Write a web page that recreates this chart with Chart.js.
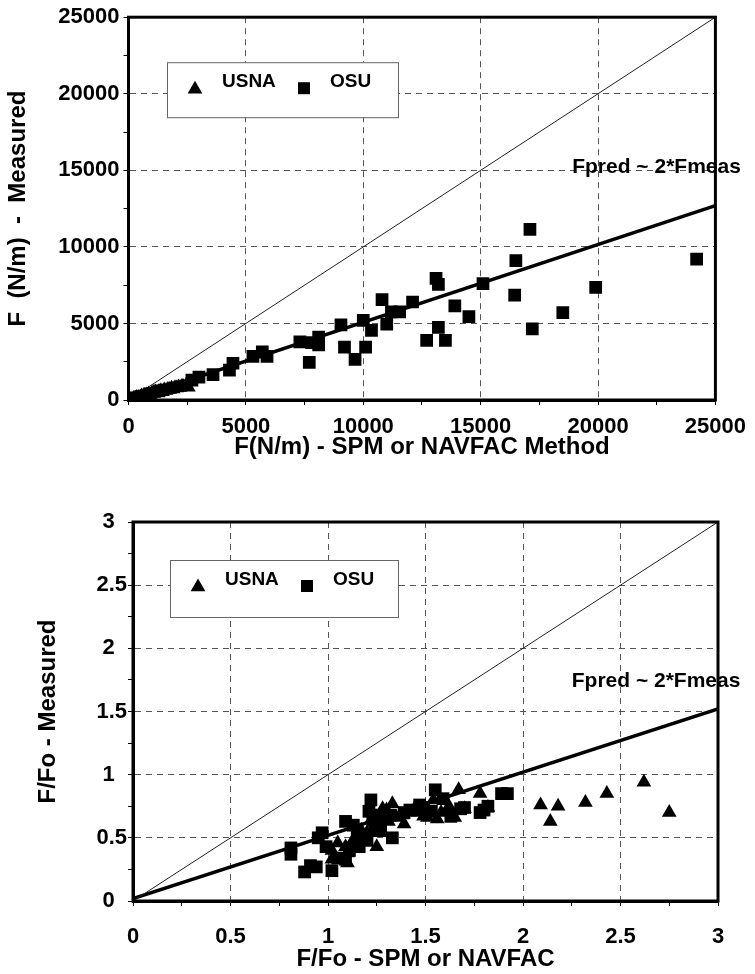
<!DOCTYPE html>
<html>
<head>
<meta charset="utf-8">
<script src="https://cdn.jsdelivr.net/npm/chart.js@4.4.1/dist/chart.umd.min.js"></script>
<style>
  body { margin: 0; background: #fff; }
  .box { position: absolute; left: 0; width: 755px; height: 487px; }
</style>
</head>
<body>
<div class="box" style="top:0"><canvas id="topChart" width="755" height="487"></canvas></div>
<div class="box" style="top:487px"><canvas id="bottomChart" width="755" height="487"></canvas></div>
<script>
// top panel: F (N/m), measured vs predicted
const topUsna = [
  [80, 30], [150, 60], [220, 90], [300, 110], [350, 160], [420, 170], [500, 200], [560, 260],
  [630, 240], [700, 300], [780, 320], [850, 380], [920, 350], [1000, 450], [1080, 420],
  [1150, 520], [1230, 480], [1300, 560], [1380, 600], [1450, 540], [1520, 650], [1600, 620],
  [1680, 700], [1750, 680], [1830, 760], [1900, 720], [1980, 800], [2050, 780], [2130, 850],
  [2200, 820], [2280, 900], [2350, 870], [2450, 950], [2550, 830]
];
const topOsu = [
  [24200, 9200], [17100, 11150], [16500, 9100], [16450, 6850], [17200, 4650], [18500, 5700],
  [19900, 7350], [15100, 7600], [13100, 7950], [13200, 7550], [13900, 6150], [14500, 5450],
  [13200, 4750], [12700, 3900], [13500, 3900], [12100, 6400], [10800, 6550], [11200, 5750],
  [11550, 5750], [11000, 4950], [10000, 5200], [10350, 4550], [9050, 4900], [10100, 3450],
  [9200, 3450], [9650, 2650], [8100, 4100], [7800, 3750], [8100, 3600], [7300, 3800],
  [7700, 2450], [5700, 3150], [5900, 2850], [5300, 2850], [4450, 2400], [4300, 1950],
  [3600, 1650], [3000, 1500], [2700, 1300], [1300, 600], [900, 400], [500, 200]
];
const topEqual = [[0, 0], [25000, 25000]];
const topFit = [[0, 0], [25000, 12700]];
const topTicks = [0, 5000, 10000, 15000, 20000, 25000];

// bottom panel: F/Fo, measured vs predicted
const bottomUsna = [
  [2.62, 0.94], [2.75, 0.70], [2.43, 0.85], [2.32, 0.78], [2.18, 0.75], [2.09, 0.76], [2.14, 0.63],
  [1.78, 0.85], [1.82, 0.74], [1.67, 0.88], [1.65, 0.66], [1.56, 0.65], [1.51, 0.66], [1.54, 0.80],
  [1.62, 0.75], [1.39, 0.61], [1.33, 0.77], [1.28, 0.73], [1.44, 0.72], [1.49, 0.67], [1.38, 0.68],
  [1.31, 0.63], [1.30, 0.72], [1.27, 0.54], [1.22, 0.64], [1.20, 0.54], [1.17, 0.56], [1.15, 0.51],
  [1.12, 0.46], [1.10, 0.38], [1.10, 0.30], [1.09, 0.43], [1.05, 0.46], [1.02, 0.40], [1.02, 0.33],
  [1.25, 0.43], [1.35, 0.66], [1.46, 0.70], [1.58, 0.70], [1.70, 0.73]
];
const bottomOsu = [
  [0.81, 0.42], [0.81, 0.37], [0.88, 0.23], [0.94, 0.27], [0.91, 0.28], [1.02, 0.24], [0.97, 0.54],
  [0.95, 0.50], [0.99, 0.43], [1.09, 0.63], [1.05, 0.34], [1.09, 0.33], [1.11, 0.40], [1.16, 0.43],
  [1.20, 0.48], [1.15, 0.52], [1.22, 0.80], [1.21, 0.71], [1.27, 0.59], [1.23, 0.64], [1.32, 0.68],
  [1.33, 0.50], [1.39, 0.70], [1.42, 0.72], [1.47, 0.76], [1.49, 0.74], [1.55, 0.88], [1.59, 0.81],
  [1.53, 0.71], [1.63, 0.67], [1.68, 0.73], [1.70, 0.74], [1.78, 0.70], [1.80, 0.72], [1.82, 0.75],
  [1.89, 0.85], [1.92, 0.85], [1.26, 0.68], [1.13, 0.60], [1.24, 0.56]
];
const bottomEqual = [[0, 0], [3, 3]];
const bottomFit = [[0, 0.02], [3, 1.52]];
const bottomTicks = [0, 0.5, 1, 1.5, 2, 2.5, 3];

const noteText = 'Fpred ~ 2*Fmeas';
const FONT = "'Liberation Sans', Arial, sans-serif";

const toPts = (arr) => arr.map(p => ({x: p[0], y: p[1]}));
const isMajor = (v, ticks) => ticks.some(t => Math.abs(t - v) < 1e-9);

function triangle(ctx, x, y, r) {
  ctx.beginPath();
  ctx.moveTo(x, y - r);
  ctx.lineTo(x + 0.866 * r, y + 0.5 * r);
  ctx.lineTo(x - 0.866 * r, y + 0.5 * r);
  ctx.closePath();
  ctx.fill();
}

const extras = {
  id: 'extras',
  afterDatasetsDraw(chart, args, o) {
    const {ctx, chartArea: a, scales} = chart;
    ctx.save();
    // frame
    ctx.strokeStyle = '#000';
    ctx.lineWidth = 3;
    ctx.strokeRect(a.left, a.top, a.right - a.left, a.bottom - a.top);

    // legend box
    const lx = a.left + o.legendLeft, ly = a.top + o.legendTop;
    ctx.fillStyle = '#fff';
    ctx.fillRect(lx, ly, o.legendW, o.legendH);
    ctx.lineWidth = 1;
    ctx.strokeStyle = '#666';
    ctx.strokeRect(lx + 0.5, ly + 0.5, o.legendW, o.legendH);
    ctx.fillStyle = '#000';
    triangle(ctx, lx + 28, ly + 27, 8.5);
    ctx.fillRect(lx + 131, ly + 20, 12, 12);
    ctx.font = 'bold 19px ' + FONT;
    ctx.textBaseline = 'middle';
    ctx.textAlign = 'left';
    ctx.fillText(chart.data.datasets[0].label, lx + 55, ly + 20);
    ctx.fillText(chart.data.datasets[1].label, lx + 163, ly + 20);

    // note beside fit line
    ctx.font = 'bold 21px ' + FONT;
    ctx.fillText(noteText, scales.x.getPixelForValue(o.noteX), scales.y.getPixelForValue(o.noteY));
    ctx.restore();
  }
};

function makeChart(id, c) {
  const ctx = document.getElementById(id).getContext('2d');
  const axis = (ticks, step, title, extra) => ({
    type: 'linear',
    min: ticks[0],
    max: ticks[ticks.length - 1],
    ticks: {
      stepSize: step,
      color: '#000',
      font: {family: FONT, size: 22, weight: 'bold'},
      padding: extra.tickPad,
      maxRotation: 0,
      autoSkip: false,
      callback: extra.label
    },
    grid: {
      color: (g) => g.tick && isMajor(g.tick.value, ticks) ? '#555' : 'rgba(0,0,0,0)',
      lineWidth: 1,
      tickColor: '#000',
      tickLength: 5,
      tickWidth: 1,
      tickBorderDash: []
    },
    border: {display: true, color: '#000', width: 3, dash: [6, 5]},
    title: {
      display: true,
      text: title,
      color: '#000',
      font: {family: FONT, size: 24, weight: 'bold'},
      padding: extra.titlePad
    },
    afterFit: extra.fit
  });

  return new Chart(ctx, {
    type: 'scatter',
    data: {
      datasets: [
        {
          label: 'USNA',
          data: toPts(c.usna),
          pointStyle: 'triangle',
          pointRadius: 8.5,
          backgroundColor: '#000',
          borderWidth: 0
        },
        {
          label: 'OSU',
          data: toPts(c.osu),
          pointStyle: 'rect',
          pointRadius: 9,
          backgroundColor: '#000',
          borderWidth: 0
        },
        {
          label: 'equal',
          data: toPts(c.equal),
          showLine: true,
          pointRadius: 0,
          borderColor: '#222',
          borderWidth: 1
        },
        {
          label: 'fit',
          data: toPts(c.fit),
          showLine: true,
          pointRadius: 0,
          borderColor: '#000',
          borderWidth: 3.5
        }
      ]
    },
    options: {
      responsive: false,
      animation: false,
      devicePixelRatio: 1,
      layout: {padding: {top: c.padTop, right: c.padRight, left: 0, bottom: 0}},
      plugins: {
        legend: {display: false},
        tooltip: {enabled: false},
        extras: c.extras
      },
      scales: {
        x: axis(c.ticks, c.step, c.xTitle, {
          tickPad: c.xTickPad,
          label: c.xLabel,
          titlePad: {top: 0, bottom: c.xTitleBottom},
          fit: (s) => { s.height = c.xHeight; }
        }),
        y: axis(c.ticks, c.step, c.yTitle, {
          tickPad: c.yTickPad,
          label: c.yLabel,
          titlePad: {top: c.yTitleTop, bottom: 0},
          fit: (s) => { s.width = c.yWidth; }
        })
      }
    },
    plugins: [extras]
  });
}

const topLabel = (v) => isMajor(v, topTicks) ? String(v) : '';
makeChart('topChart', {
  usna: topUsna, osu: topOsu, equal: topEqual, fit: topFit,
  ticks: topTicks, step: 2500,
  xTitle: 'F(N/m) - SPM or NAVFAC Method',
  yTitle: 'F  (N/m)  -  Measured',
  xLabel: topLabel, yLabel: topLabel,
  padTop: 17, padRight: 35, yWidth: 128.5, xHeight: 87,
  xTickPad: 9, yTickPad: 4, xTitleBottom: 25, yTitleTop: 4,
  extras: {legendLeft: 38.5, legendTop: 45, legendW: 231, legendH: 55, noteX: 18900, noteY: 15200}
});

const bottomX = (v) => isMajor(v, bottomTicks) ? String(v) : '';
const bottomY = (v) => isMajor(v, bottomTicks) ? (Number.isInteger(v) ? v + '  ' : String(v)) : '';
makeChart('bottomChart', {
  usna: bottomUsna, osu: bottomOsu, equal: bottomEqual, fit: bottomFit,
  ticks: bottomTicks, step: 0.25,
  xTitle: 'F/Fo - SPM or NAVFAC',
  yTitle: 'F/Fo - Measured',
  xLabel: bottomX, yLabel: bottomY,
  padTop: 35, padRight: 37, yWidth: 133, xHeight: 73,
  xTickPad: 18, yTickPad: 1, xTitleBottom: 0, yTitleTop: 34,
  extras: {legendLeft: 37, legendTop: 38, legendW: 228, legendH: 57, noteX: 2.25, noteY: 1.74}
});
</script>
</body>
</html>
